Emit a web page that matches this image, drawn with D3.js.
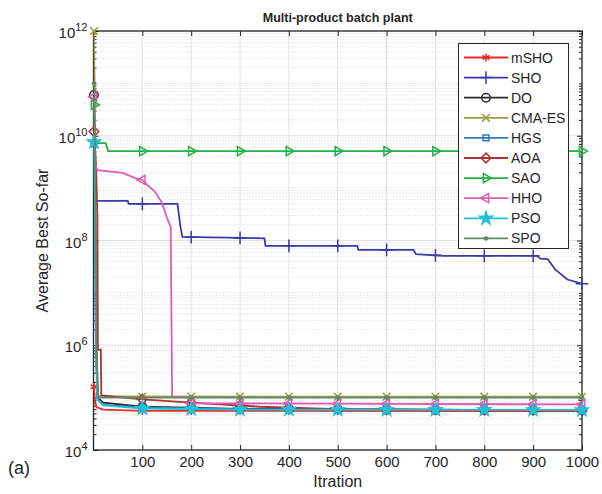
<!DOCTYPE html>
<html>
<head>
<meta charset="utf-8">
<script src="https://cdn.jsdelivr.net/npm/d3@7"></script>
<style>
body { margin: 0; background: #fff; }
text { font-family: Arial, "Liberation Sans", sans-serif; fill: #262626; }
</style>
</head>
<body>
<svg id="chart" width="602" height="494"></svg>
<script>
// algorithm names, in plotting order
const names = ["mSHO", "SHO", "DO", "CMA-ES", "HGS", "AOA", "SAO", "HHO", "PSO", "SPO"];

// convergence curves: [iteration, average best so-far]
const mSHO  = [[1,1.6e5],[3,8.5e4],[6,6.6e4],[20,5.9e4],[100,5.6e4],[1000,5.5e4]];
const SHO   = [[1,8e9],[3,5.7e8],[70,5.7e8],[72,5.0e8],[172,5.0e8],[175,3.0e8],[178,1.8e8],[182,1.17e8],[350,1.1e8],[352,7.9e7],
               [540,7.9e7],[542,6.6e7],[655,6.6e7],[660,5.5e7],[716,5.1e7],[908,5.1e7],[915,4.5e7],[930,4.4e7],[945,2.8e7],
               [970,1.8e7],[1000,1.5e7]];
const DO    = [[1,6e10],[3,1e9],[6,1e6],[8,1.0e5],[20,8.0e4],[100,6.7e4],[300,6.1e4],[1000,5.7e4]];
const CMAES = [[1,1e12],[3,2e10],[5,1e6],[8,1.1e5],[12,1.05e5],[1000,1.04e5]];
const HGS   = [[1,7e9],[3,3e8],[5,1e6],[8,9.5e4],[20,7.3e4],[100,6.5e4],[300,6.0e4],[1000,5.8e4]];
const AOA   = [[1,1.2e10],[5,3e9],[8,3e8],[9,8.2e5],[15,8.2e5],[16,1.1e5],[100,9.3e4],[200,8.0e4],[340,6.7e4],[500,6.0e4],[1000,5.7e4]];
const SAO   = [[1,3.9e10],[3,7.2e9],[25,7.2e9],[30,5.1e9],[1000,5.1e9]];
const HHO   = [[1,5.5e10],[3,3.0e9],[8,2.2e9],[60,1.95e9],[85,1.55e9],[100,1.43e9],[110,1.15e9],[126,8.5e8],[140,5.3e8],
               [150,2.8e8],[158,1.8e8],[161,1.04e5],[196,1.0e5],[200,7.8e4],[1000,7.4e4]];
const PSO   = [[1,7.6e9],[3,5e8],[5,1e6],[8,9.1e4],[20,7.1e4],[100,6.2e4],[300,5.9e4],[1000,5.8e4]];
const SPO   = [[1,1e11],[3,5e9],[6,1e6],[10,1.0e5],[1000,1.0e5]];
const curves = [mSHO, SHO, DO, CMAES, HGS, AOA, SAO, HHO, PSO, SPO];

const markerIters = [1,100,200,300,400,500,600,700,800,900,1000];
const xTicks = [100,200,300,400,500,600,700,800,900,1000];
const yTicks = [1e4,1e6,1e8,1e10,1e12];

const colors = ["#ee2b2b","#3b3ba6","#2a2a2a","#9c9c3c","#2f7db5","#a83434","#22b24a","#e05cb2","#1fc0dc","#5f8a6b"];

const svg = d3.select("#chart");
const pLeft = 93.5, pRight = 582, pTop = 31, pBottom = 450;

const x = d3.scaleLinear().domain([0, 1000]).range([pLeft, pRight]);
const y = d3.scaleLog().domain([1e4, 1e12]).range([pBottom, pTop]);

// minor tick values 2..9 x 10^n plus odd decades
let minor = [];
for (let e = 4; e < 12; e++) {
  for (let k = 1; k < 10; k++) {
    if (k === 1 && e % 2 === 0) continue;
    minor.push(k * Math.pow(10, e));
  }
}

// grid
svg.append("g").selectAll("line").data(minor).enter().append("line")
  .attr("x1", pLeft).attr("x2", pRight)
  .attr("y1", d => y(d)).attr("y2", d => y(d))
  .attr("stroke", "#d6d6d6").attr("stroke-width", 1).attr("stroke-dasharray", "1,2");

svg.append("g").selectAll("line").data(yTicks).enter().append("line")
  .attr("x1", pLeft).attr("x2", pRight)
  .attr("y1", d => y(d)).attr("y2", d => y(d))
  .attr("stroke", "#e2e2e2").attr("stroke-width", 1);

svg.append("g").selectAll("line").data(xTicks).enter().append("line")
  .attr("x1", d => x(d)).attr("x2", d => x(d))
  .attr("y1", pTop).attr("y2", pBottom)
  .attr("stroke", "#e2e2e2").attr("stroke-width", 1);

// axes (ticks pointing inwards, box on)
const xb = svg.append("g").attr("transform", `translate(0,${pBottom})`)
  .call(d3.axisBottom(x).tickValues(xTicks).tickFormat(d3.format("d"))
    .tickSize(-5).tickPadding(6).tickSizeOuter(0));
xb.selectAll("text").attr("font-size", "15px").attr("fill", "#262626");
svg.append("g").attr("transform", `translate(0,${pTop})`)
  .call(d3.axisTop(x).tickValues(xTicks).tickSize(-5).tickFormat("").tickSizeOuter(0));

svg.append("g").attr("transform", `translate(${pLeft},0)`)
  .call(d3.axisLeft(y).tickValues(yTicks).tickSize(-5).tickFormat("").tickSizeOuter(0));
svg.append("g").attr("transform", `translate(${pLeft},0)`)
  .call(d3.axisLeft(y).tickValues(minor).tickSize(-3).tickFormat("").tickSizeOuter(0));
svg.append("g").attr("transform", `translate(${pRight},0)`)
  .call(d3.axisRight(y).tickValues(yTicks).tickSize(-5).tickFormat("").tickSizeOuter(0));
svg.append("g").attr("transform", `translate(${pRight},0)`)
  .call(d3.axisRight(y).tickValues(minor).tickSize(-3).tickFormat("").tickSizeOuter(0));

svg.selectAll(".domain").remove();
svg.selectAll(".tick line").attr("stroke", "#262626");

// y tick labels 10^n
const ylab = svg.append("g").selectAll("text").data(yTicks).enter().append("text")
  .attr("x", pLeft - 6).attr("y", d => y(d) + 7)
  .attr("text-anchor", "end").attr("font-size", "15px");
ylab.append("tspan").text("10");
ylab.append("tspan").attr("dy", -7).attr("font-size", "11px")
  .text(d => Math.round(Math.log10(d)));

// plot box
svg.append("rect").attr("x", pLeft).attr("y", pTop)
  .attr("width", pRight - pLeft).attr("height", pBottom - pTop)
  .attr("fill", "none").attr("stroke", "#262626").attr("stroke-width", 1.3);

svg.append("clipPath").attr("id", "plotclip").append("rect")
  .attr("x", pLeft).attr("y", pTop).attr("width", pRight - pLeft).attr("height", pBottom - pTop);

// marker shapes
function marker(g, i, cx, cy) {
  const c = colors[i];
  let sym, rot = 0, fill = "none", sz = 60;
  switch (names[i]) {
    case "mSHO": sym = d3.symbolAsterisk; sz = 45; break;
    case "SHO": sym = d3.symbolPlus; sz = 55; break;
    case "DO": sym = d3.symbolCircle; sz = 55; break;
    case "CMA-ES": sym = d3.symbolX; sz = 40; break;
    case "HGS": sym = d3.symbolSquare2; sz = 45; break;
    case "AOA": sym = d3.symbolDiamond2; sz = 60; break;
    case "SAO": sym = d3.symbolTriangle2; rot = 90; sz = 60; break;
    case "HHO": sym = d3.symbolTriangle2; rot = -90; sz = 60; break;
    case "PSO": sym = d3.symbolStar; fill = c; sz = 50; break;
    case "SPO": sym = d3.symbolCircle; fill = c; sz = 8; break;
  }
  g.append("path")
    .attr("d", d3.symbol().type(sym).size(sz)())
    .attr("transform", `translate(${cx},${cy}) rotate(${rot})`)
    .attr("fill", fill).attr("stroke", c).attr("stroke-width", 1.5);
}

// value on the drawn polyline at iteration t (log-linear, like the line itself)
function valueAt(data, t) {
  const j = d3.bisector(d => d[0]).left(data, t);
  if (j <= 0) return data[0][1];
  if (j >= data.length) return data[data.length - 1][1];
  const a = data[j - 1], b = data[j];
  const f = (t - a[0]) / (b[0] - a[0]);
  return Math.pow(10, Math.log10(a[1]) + f * (Math.log10(b[1]) - Math.log10(a[1])));
}

const line = d3.line().x(d => x(d[0])).y(d => y(d[1]));

curves.forEach((data, i) => {
  const g = svg.append("g");
  g.append("path").attr("d", line(data))
    .attr("clip-path", "url(#plotclip)")
    .attr("fill", "none").attr("stroke", colors[i]).attr("stroke-width", 1.8);
  markerIters.forEach(t => marker(g, i, x(t), y(valueAt(data, t))));
});

// legend
const lg = svg.append("g");
lg.append("rect").attr("x", 458.5).attr("y", 43.5).attr("width", 110).attr("height", 205)
  .attr("fill", "#fff").attr("stroke", "#262626").attr("stroke-width", 1);
names.forEach((n, i) => {
  const ly = 57.5 + i * 20.1;
  lg.append("line").attr("x1", 464).attr("x2", 508).attr("y1", ly).attr("y2", ly)
    .attr("stroke", colors[i]).attr("stroke-width", 1.8);
  marker(lg, i, 486, ly);
  lg.append("text").attr("x", 511).attr("y", ly + 5).attr("font-size", "14px").text(n);
});

// titles
svg.append("text").attr("x", (pLeft + pRight) / 2).attr("y", 22)
  .attr("text-anchor", "middle").attr("font-size", "12.5px").attr("font-weight", "bold")
  .attr("fill", "#000").text("Multi-product batch plant");
svg.append("text").attr("x", (pLeft + pRight) / 2).attr("y", 487)
  .attr("text-anchor", "middle").attr("font-size", "16px").text("Itration");
svg.append("text").attr("transform", `translate(48,${(pTop + pBottom) / 2}) rotate(-90)`)
  .attr("text-anchor", "middle").attr("font-size", "16px").text("Average Best So-far");
svg.append("text").attr("x", 8).attr("y", 474).attr("font-size", "18px").text("(a)");
</script>
</body>
</html>
